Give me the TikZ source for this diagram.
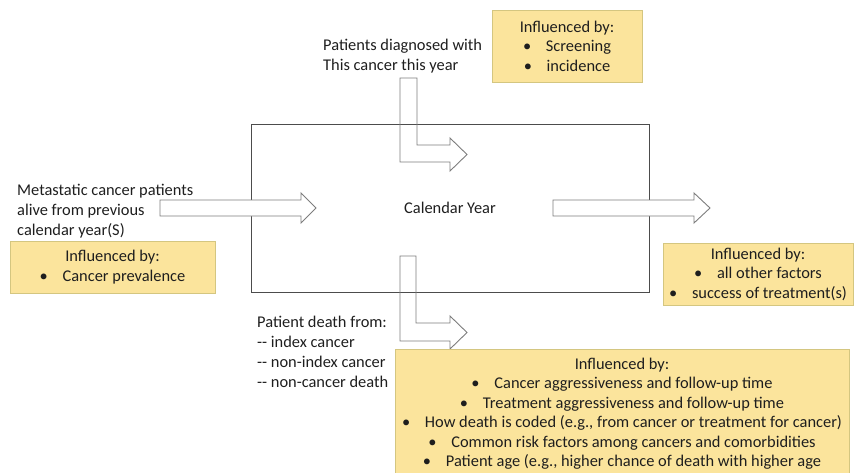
\documentclass[tikz,border=0pt]{standalone}
\usepackage{fontspec}
\setmainfont{Carlito}
\usetikzlibrary{positioning}
\definecolor{boxfill}{RGB}{251,228,156}
\definecolor{boxline}{RGB}{212,198,128}
\definecolor{arrowline}{RGB}{125,125,125}
\definecolor{txtcol}{RGB}{30,30,30}

\begin{document}
\begin{tikzpicture}[x=1pt,y=-1pt,
txt/.style={font=\fontsize{16.4}{20}\selectfont,text=txtcol,align=left,inner sep=0pt},
infobox/.style={draw=boxline,fill=boxfill,line width=0.8pt,font=\fontsize{16.4}{19.5}\selectfont,text=txtcol,align=center,inner sep=0pt,outer sep=0pt},
blockarrow/.style={draw=arrowline,line width=0.9pt,line join=miter}]

        \useasboundingbox (0,0) rectangle (854,472);

        % the year
        \node [draw=black!70,line width=0.9pt,minimum width=398pt,minimum height=168pt,anchor=north west,inner sep=0pt] (year) at (251,124) {};
        \node [txt] (yeartxt) at (450,208) {Calendar Year};

        % arrows into and out of the year
        \draw [blockarrow] (400,78) -- (417,78) -- (417,145) -- (450,145) -- (450,138) -- (467,154.5) -- (450,171) -- (450,162) -- (400,162) -- cycle;
        \draw [blockarrow] (400,256) -- (416,256) -- (416,323) -- (450,323) -- (450,316) -- (467,332.5) -- (450,349) -- (450,341) -- (400,341) -- cycle;
        \draw [blockarrow,fill=white] (160,200) -- (301,200) -- (301,193) -- (316,208) -- (301,223) -- (301,216) -- (160,216) -- cycle;
        \draw [blockarrow,fill=white] (553,200) -- (694,200) -- (694,193) -- (710,208) -- (694,223) -- (694,216) -- (553,216) -- cycle;

        % texts
        \node [txt,anchor=north west] (prev) at (17,183.5) {Metastatic cancer patients\\alive from previous\\calendar year(S)};
        \node [txt,anchor=north west] (diag) at (323,39) {Patients diagnosed with\\This cancer this year};
        \node [txt,anchor=north west] (death) at (257,316) {Patient death from:\\-{}- index cancer\\-{}- non-index cancer\\-{}- non-cancer death};

        % influences
        \node [infobox,minimum width=150pt,minimum height=72pt,anchor=north west] (inftop) at (492,10) {Influenced by:\\•\hspace{0.9em}Screening\\•\hspace{0.9em}incidence};
        \node [infobox,minimum width=205pt,minimum height=52pt,anchor=north west] (infleft) at (10,241) {Influenced by:\\•\hspace{0.9em}Cancer prevalence};
        \node [infobox,minimum width=190pt,minimum height=62pt,anchor=north west] (infright) at (663,243) {Influenced by:\\•\hspace{0.9em}all other factors\\•\hspace{0.9em}success of treatment(s)};
        \node [infobox,minimum width=454pt,inner ysep=9pt,anchor=north west] (infbottom) at (395,349) {Influenced by:\\
            •\hspace{0.9em}Cancer aggressiveness and follow-up time\\
            •\hspace{0.9em}Treatment aggressiveness and follow-up time\\
            •\hspace{0.9em}How death is coded (e.g., from cancer or treatment for cancer)\\
            •\hspace{0.9em}Common risk factors among cancers and comorbidities\\
            •\hspace{0.9em}Patient age (e.g., higher chance of death with higher age};
    \end{tikzpicture}
\end{document}
